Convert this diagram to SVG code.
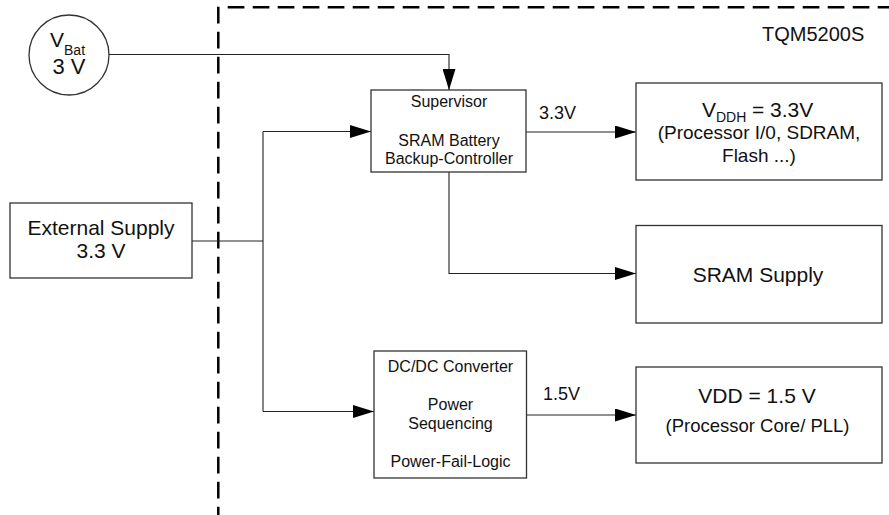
<svg xmlns="http://www.w3.org/2000/svg" width="889" height="515" viewBox="0 0 889 515">
<defs>
<marker id="arr" markerUnits="userSpaceOnUse" markerWidth="21" markerHeight="13" refX="21" refY="6.5" orient="auto">
<path d="M0,0 L21,6.5 L0,13 Z" fill="#000"/>
</marker>
<style>
text{font-family:"Liberation Sans",Arial,sans-serif;fill:#111}
.box{fill:#fff;stroke:#333;stroke-width:1.3}
.c{fill:none;stroke:#222;stroke-width:1.1}
.a{marker-end:url(#arr)}
.m{text-anchor:middle}
.s16{font-size:16px}
.s21{font-size:21px}
.s19{font-size:19px}
.s18{font-size:18px}
.dash{fill:none;stroke:#000;stroke-width:2.5;stroke-dasharray:16.7 8.3}
</style>
</defs>
<rect width="889" height="515" fill="#fff"/>
<g id="module-border">
<path class="dash" d="M218.3,6.7 V515"/>
<path class="dash" d="M227.7,7.3 H889"/>
<text x="762" y="41" style="font-size:20px">TQM5200S</text>
</g>
<g id="connectors">
<path class="c a" d="M109,54.5 H449 V90"/>
<path class="c" d="M192,241 H263"/>
<path class="c" d="M263,131.5 V411.5"/>
<path class="c a" d="M263,131.5 H371"/>
<path class="c a" d="M263,411.5 H374"/>
<path class="c a" d="M526,132 H636"/>
<path class="c a" d="M449,172 V273.5 H636"/>
<path class="c a" d="M526.5,415 H636"/>
<text class="s18" x="539" y="119">3.3V</text>
<text class="s18" x="543" y="400">1.5V</text>
</g>
<g id="vbat">
<circle cx="69" cy="55" r="40" fill="#fff" stroke="#333" stroke-width="1.3"/>
<text style="font-size:21px" x="50" y="47">V<tspan dy="8" style="font-size:14px">Bat</tspan></text>
<text class="m" style="font-size:22px" x="69" y="74">3 V</text>
</g>
<g id="external-supply">
<rect class="box" x="10" y="203" width="182" height="75"/>
<text class="m s21" x="101" y="235">External Supply</text>
<text class="m s21" x="101" y="258">3.3 V</text>
</g>
<g id="supervisor">
<rect class="box" x="371" y="90" width="155" height="82"/>
<text class="m s16" x="449" y="107">Supervisor</text>
<text class="m s16" x="449" y="146">SRAM Battery</text>
<text class="m s16" x="449" y="164">Backup-Controller</text>
</g>
<g id="dcdc">
<rect class="box" x="374" y="351" width="152.5" height="127"/>
<text class="m s16" x="450.5" y="371.5">DC/DC Converter</text>
<text class="m s16" x="450.5" y="410">Power</text>
<text class="m s16" x="450.5" y="429">Sequencing</text>
<text class="m s16" x="450.5" y="466.5">Power-Fail-Logic</text>
</g>
<g id="vddh">
<rect class="box" x="636" y="83" width="246" height="97"/>
<text style="font-size:21px" y="116.7"><tspan x="702">V</tspan><tspan x="716" dy="5.5" style="font-size:14px">DDH</tspan><tspan x="752" dy="-5.5">= 3.3V</tspan></text>
<text class="m s19" x="759" y="139">(Processor I/0, SDRAM,</text>
<text class="m s19" x="759" y="162">Flash ...)</text>
</g>
<g id="sram-supply">
<rect class="box" x="636" y="225.5" width="246" height="97.5"/>
<text class="m s21" x="758" y="282">SRAM Supply</text>
</g>
<g id="vdd">
<rect class="box" x="636" y="367" width="246" height="96"/>
<text class="m s21" x="757" y="403">VDD = 1.5 V</text>
<text class="m" style="font-size:18.5px" x="757.5" y="432">(Processor Core/ PLL)</text>
</g>
</svg>
